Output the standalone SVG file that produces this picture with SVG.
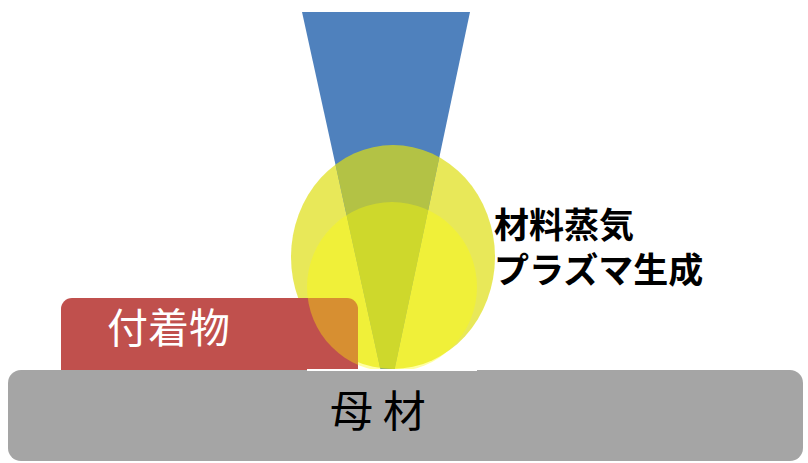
<svg xmlns="http://www.w3.org/2000/svg" width="808" height="463" viewBox="0 0 808 463">
  <style>
    .jp { font-family: "Noto Sans CJK JP", "Noto Sans CJK SC", sans-serif; }
    .base { fill: #A5A5A5; }
    .deposit { fill: #C0504D; }
    .beam { fill: #4F81BD; }
    .vapor-outer { fill: #DEDE13; fill-opacity: 0.7; }
    .vapor-inner { fill: #FFFF00; fill-opacity: 0.36; }
  </style>
  <rect width="808" height="463" fill="#FFFFFF"/>

  <!-- outer vapor cloud -->
  <g id="vapor-outer">
    <ellipse class="vapor-outer" cx="393" cy="257" rx="102" ry="112"/>
  </g>

  <!-- laser beam -->
  <g id="beam">
    <polygon class="beam" points="302,12 470,12 394,372 381,372"/>
  </g>
  <g id="beam-in-vapor">
    <clipPath id="clip-outer"><ellipse cx="393" cy="257" rx="102" ry="112"/></clipPath>
    <polygon class="vapor-outer" clip-path="url(#clip-outer)" points="302,12 470,12 394,372 381,372"/>
  </g>

  <!-- deposit layer -->
  <g id="deposit">
    <rect class="deposit" x="61" y="298" width="297" height="90" rx="11"/>
    <text class="jp" x="107" y="343" font-size="41" fill="#FFFFFF">付着物</text>
  </g>

  <!-- inner plasma -->
  <g id="vapor-inner">
    <circle class="vapor-inner" cx="392" cy="287" r="85"/>
  </g>

  <!-- base material -->
  <g id="base">
    <rect class="base" x="8" y="370" width="795" height="91" rx="13"/>
    <rect x="307" y="369" width="170" height="2" fill="#FFFFFF"/>
    <text class="jp" x="330" y="427" font-size="43" fill="#000000">母 材</text>
  </g>

  <!-- label -->
  <g id="label">
    <text class="jp" x="494" y="238" font-size="35" font-weight="bold" fill="#000000">材料蒸気</text>
    <text class="jp" x="494" y="283" font-size="35" font-weight="bold" fill="#000000">プラズマ生成</text>
  </g>
</svg>
